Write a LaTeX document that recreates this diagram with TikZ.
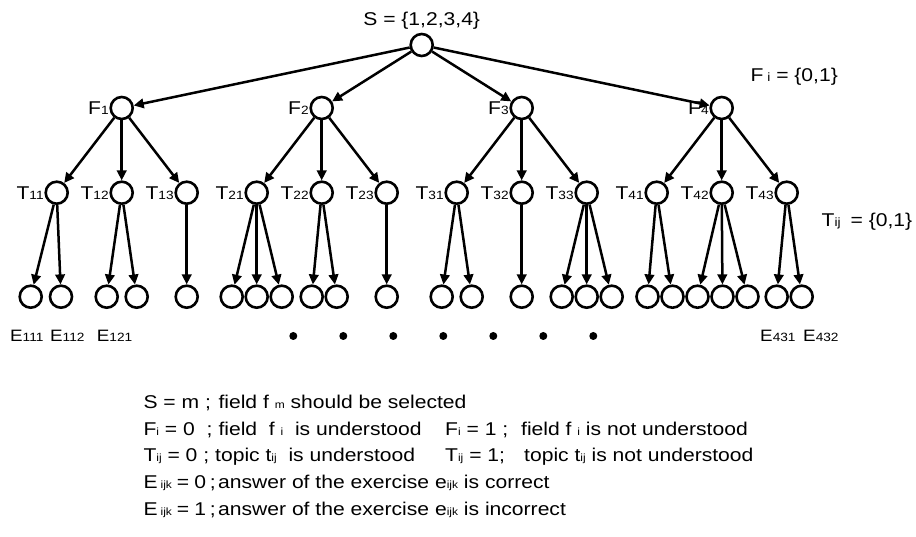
\documentclass[tikz,border=0pt]{standalone}
\usepackage{fontspec}
\setmainfont{Liberation Sans}[FakeStretch=1.14]
\usetikzlibrary{arrows.meta,positioning}
\newcommand{\lo}[1]{{\fontsize{12}{12}\selectfont #1}}
\newcommand{\lsub}[1]{{\fontsize{10.5}{10.5}\selectfont #1}}

\begin{document}
\begin{tikzpicture}[x=1pt,y=-1pt,
    state/.style={circle,draw,line width=2.6pt,minimum size=22pt,inner sep=0pt},
    edge/.style={line width=2.5pt,-{Triangle[length=10pt,width=9.5pt]}},
    lbl/.style={inner sep=0.5pt,font=\fontsize{18.5}{18.5}\selectfont},
    elbl/.style={inner sep=0pt,anchor=west,font=\fontsize{16.5}{16.5}\selectfont},
    note/.style={inner sep=0pt,anchor=base west,font=\fontsize{18.5}{18.5}\selectfont}]
\useasboundingbox (0,0) rectangle (916,537);

% root and fields
\node[state] (S) at (421.7,45) {};
\node[state] (F1) at (121.7,108) {};
\node[state] (F2) at (321.7,108) {};
\node[state] (F3) at (521.7,108) {};
\node[state] (F4) at (721.7,108) {};

% topics
\node[state] (T11) at (56.7,192.7) {};
\node[state] (T12) at (121.7,192.7) {};
\node[state] (T13) at (186.7,192.7) {};
\node[state] (T21) at (256.7,192.7) {};
\node[state] (T22) at (321.7,192.7) {};
\node[state] (T23) at (386.7,192.7) {};
\node[state] (T31) at (456.7,192.7) {};
\node[state] (T32) at (521.7,192.7) {};
\node[state] (T33) at (586.7,192.7) {};
\node[state] (T41) at (656.7,192.7) {};
\node[state] (T42) at (721.7,192.7) {};
\node[state] (T43) at (786.7,192.7) {};

% exercises
\node[state] (E111) at (30.7,296.7) {};
\node[state] (E112) at (61,296.7) {};
\node[state] (E121) at (106.7,296.7) {};
\node[state] (E122) at (136.7,296.7) {};
\node[state] (E131) at (186.7,296.7) {};
\node[state] (E211) at (231.7,296.7) {};
\node[state] (E212) at (256.7,296.7) {};
\node[state] (E213) at (281.7,296.7) {};
\node[state] (E221) at (311.7,296.7) {};
\node[state] (E222) at (336.7,296.7) {};
\node[state] (E231) at (386.7,296.7) {};
\node[state] (E311) at (441.7,296.7) {};
\node[state] (E312) at (471.7,296.7) {};
\node[state] (E321) at (521.7,296.7) {};
\node[state] (E331) at (561.7,296.7) {};
\node[state] (E332) at (586.7,296.7) {};
\node[state] (E333) at (611.7,296.7) {};
\node[state] (E411) at (647.5,296.7) {};
\node[state] (E412) at (672.5,296.7) {};
\node[state] (E421) at (697.5,296.7) {};
\node[state] (E422) at (722.5,296.7) {};
\node[state] (E423) at (747.5,296.7) {};
\node[state] (E431) at (776.7,296.7) {};
\node[state] (E432) at (801.7,296.7) {};

% arrows
\draw[edge] (S) -- (F1);
\draw[edge] (S) -- (F2);
\draw[edge] (S) -- (F3);
\draw[edge] (S) -- (F4);
\draw[edge] (F1) -- (T11);
\draw[edge] (F1) -- (T12);
\draw[edge] (F1) -- (T13);
\draw[edge] (F2) -- (T21);
\draw[edge] (F2) -- (T22);
\draw[edge] (F2) -- (T23);
\draw[edge] (F3) -- (T31);
\draw[edge] (F3) -- (T32);
\draw[edge] (F3) -- (T33);
\draw[edge] (F4) -- (T41);
\draw[edge] (F4) -- (T42);
\draw[edge] (F4) -- (T43);
\draw[edge] (T11) -- (E111);
\draw[edge] (T11) -- (E112);
\draw[edge] (T12) -- (E121);
\draw[edge] (T12) -- (E122);
\draw[edge] (T13) -- (E131);
\draw[edge] (T21) -- (E211);
\draw[edge] (T21) -- (E212);
\draw[edge] (T21) -- (E213);
\draw[edge] (T22) -- (E221);
\draw[edge] (T22) -- (E222);
\draw[edge] (T23) -- (E231);
\draw[edge] (T31) -- (E311);
\draw[edge] (T31) -- (E312);
\draw[edge] (T32) -- (E321);
\draw[edge] (T33) -- (E331);
\draw[edge] (T33) -- (E332);
\draw[edge] (T33) -- (E333);
\draw[edge] (T41) -- (E411);
\draw[edge] (T41) -- (E412);
\draw[edge] (T42) -- (E421);
\draw[edge] (T42) -- (E422);
\draw[edge] (T42) -- (E423);
\draw[edge] (T43) -- (E431);
\draw[edge] (T43) -- (E432);

% labels
\node[lbl,above=3pt of S] (lS) {S = \{1,2,3,4\}};
\node[lbl,left=0pt of F1] (lF1) {F\lo{1}};
\node[lbl,left=0pt of F2] (lF2) {F\lo{2}};
\node[lbl,left=0pt of F3] (lF3) {F\lo{3}};
\node[lbl,left=0pt of F4] (lF4) {F\lo{4}};
\node[lbl,left=0pt of T11] (lT11) {T\lo{11}};
\node[lbl,left=0pt of T12] (lT12) {T\lo{12}};
\node[lbl,left=0pt of T13] (lT13) {T\lo{13}};
\node[lbl,left=0pt of T21] (lT21) {T\lo{21}};
\node[lbl,left=0pt of T22] (lT22) {T\lo{22}};
\node[lbl,left=0pt of T23] (lT23) {T\lo{23}};
\node[lbl,left=0pt of T31] (lT31) {T\lo{31}};
\node[lbl,left=0pt of T32] (lT32) {T\lo{32}};
\node[lbl,left=0pt of T33] (lT33) {T\lo{33}};
\node[lbl,left=0pt of T41] (lT41) {T\lo{41}};
\node[lbl,left=0pt of T42] (lT42) {T\lo{42}};
\node[lbl,left=0pt of T43] (lT43) {T\lo{43}};
\node[lbl,anchor=west] (lFi) at (750,76.7) {F\lo{ i} = \{0,1\}};
\node[lbl,anchor=west] (lTij) at (821,221.7) {T\lo{ij}\hspace{10pt}= \{0,1\}};
\node[elbl] (lE111) at (10,336) {E\lo{111}};
\node[elbl] (lE112) at (50,336) {E\lo{112}};
\node[elbl] (lE121) at (96.7,336) {E\lo{121}};
\node[elbl] (lE431) at (760,336) {E\lo{431}};
\node[elbl] (lE432) at (803,336) {E\lo{432}};

% dots
\fill (293.3,336) circle (4pt);
\fill (343.3,336) circle (4pt);
\fill (393.3,336) circle (4pt);
\fill (443.3,336) circle (4pt);
\fill (493.3,336) circle (4pt);
\fill (543.3,336) circle (4pt);
\fill (593.3,336) circle (4pt);

% legend
\node[note] (n1a) at (143.3,408) {S = m ;};
\node[note] (n1b) at (218.3,408) {field f \lsub{m}\ should be selected};
\node[note] (n2a) at (143.3,435) {F\lsub{i} = 0\ \ ;};
\node[note] (n2b) at (218.3,435) {field\ \ f \lsub{i}\ \ is understood};
\node[note] (n2c) at (445,435) {F\lsub{i} = 1 ;};
\node[note] (n2d) at (521,435) {field f \lsub{i}\ is not understood};
\node[note] (n3a) at (143.3,461.7) {T\lsub{ij} = 0 ;};
\node[note] (n3b) at (215,461.7) {topic t\lsub{ij}\ \ is understood};
\node[note] (n3c) at (445,461.7) {T\lsub{ij} = 1;};
\node[note] (n3d) at (524,461.7) {topic t\lsub{ij}\ is not understood};
\node[note] (n4a) at (143.3,488.3) {E\,\lsub{ijk}\hspace{5pt}=\hspace{5pt}0\hspace{4pt};};
\node[note] (n4b) at (218,488.3) {answer of the exercise e\lsub{ijk} is correct};
\node[note] (n5a) at (143.3,515) {E\,\lsub{ijk}\hspace{5pt}=\hspace{5pt}1\hspace{4pt};};
\node[note] (n5b) at (218,515) {answer of the exercise e\lsub{ijk} is incorrect};
\end{tikzpicture}
\end{document}
